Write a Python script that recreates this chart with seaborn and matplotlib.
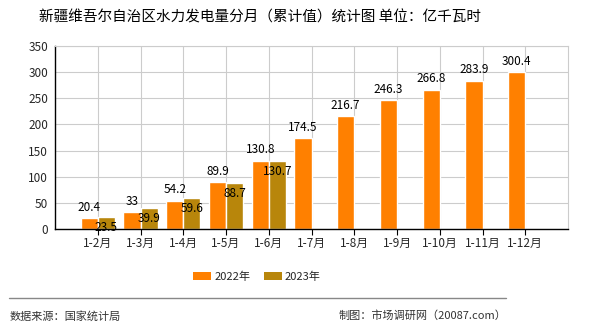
import matplotlib
matplotlib.use("Agg")
import matplotlib.pyplot as plt
import seaborn as sns
import pandas as pd
import numpy as np

months = ["1-2月", "1-3月", "1-4月", "1-5月", "1-6月", "1-7月", "1-8月", "1-9月", "1-10月", "1-11月", "1-12月"]
v2022 = [20.4, 33, 54.2, 89.9, 130.8, 174.5, 216.7, 246.3, 266.8, 283.9, 300.4]
v2023 = [23.5, 39.9, 59.6, 88.7, 130.7, None, None, None, None, None, None]
series = ["2022年", "2023年"]
colors = ["#FF8000", "#B8860B"]
yticks = [0, 50, 100, 150, 200, 250, 300, 350]

sns.set_theme(style="white")
plt.rcParams['font.family'] = ['Noto Sans CJK SC', 'DejaVu Sans']

df = pd.DataFrame({
    "month": months * 2,
    "value": v2022 + v2023,
    "year": [series[0]] * len(months) + [series[1]] * len(months),
})
df["value"] = df["value"].astype(float)

fig = plt.figure(figsize=(5.9, 3.3), dpi=100)
ax = fig.add_axes([55/590, 1 - 229/330, (568-55)/590, (229-46)/330])

sns.barplot(data=df, x="month", y="value", hue="year", palette=colors,
            order=months, hue_order=series, width=0.8, saturation=1,
            ax=ax, legend=False)

ax.set_xlim(-1, len(months))
ax.set_ylim(0, 350)
ax.set_yticks(yticks)
ax.set_xticks(range(len(months)))
ax.set_xticklabels(months, fontsize=8.5)
ax.tick_params(axis='y', labelsize=8.5, length=3, width=0.8, color='black', pad=2)
ax.tick_params(axis='x', length=4, width=0.8, color='black', pad=2, bottom=True)
ax.set_xlabel("")
ax.set_ylabel("")
ax.grid(True, color="#cccccc", linewidth=0.8)
ax.set_axisbelow(True)
for s in ["top", "right"]:
    ax.spines[s].set_color("#cccccc")
    ax.spines[s].set_linewidth(0.8)
for s in ["left", "bottom"]:
    ax.spines[s].set_color("black")
    ax.spines[s].set_linewidth(1.0)

# value labels
for i, v in enumerate(v2022):
    ax.annotate(f"{v:g}", (i - 0.2, v), xytext=(0, 3), textcoords="offset points",
                ha="center", va="bottom", fontsize=8.5, color="black")
for i, v in enumerate(v2023):
    if v is None:
        continue
    ax.annotate(f"{v:g}", (i + 0.2, v), xytext=(0, -3), textcoords="offset points",
                ha="center", va="top", fontsize=8.5, color="black")

fig.text(260/590, 1 - 17/330, "新疆维吾尔自治区水力发电量分月（累计值）统计图 单位：亿千瓦时",
         ha="center", va="center", fontsize=10.5, color="black")

# legend
from matplotlib.patches import Patch
handles = [Patch(facecolor=c, edgecolor='none') for c in colors]
fig.legend(handles, series, loc="center", bbox_to_anchor=(257/590, 1 - 277/330),
           ncol=2, frameon=False, fontsize=8, handlelength=1.6, handleheight=0.7,
           columnspacing=1.2, handletextpad=0.3)

fig.add_artist(plt.Line2D([9/590, 506/590], [1 - 298/330, 1 - 298/330],
                          color="#888888", linewidth=1.0, transform=fig.transFigure))
fig.text(10/590, 1 - 316/330, "数据来源：国家统计局", ha="left", va="center",
         fontsize=8, color="#333333")
fig.text(506/590, 1 - 316/330, "制图：市场调研网（20087.com）", ha="right", va="center",
         fontsize=8, color="#333333")

fig.savefig("out.png", dpi=100)
